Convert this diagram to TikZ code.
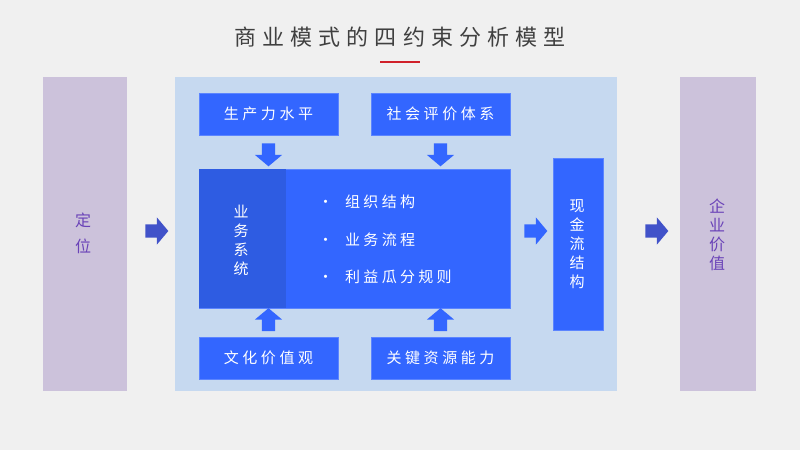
\documentclass[tikz,border=0pt]{standalone}
\usepackage{fontspec}
\setmainfont{Noto Sans CJK SC}
\usetikzlibrary{shapes.arrows,calc}
\definecolor{bgc}{HTML}{F0F0F0}
\definecolor{lav}{HTML}{CCC2DB}
\definecolor{panel}{HTML}{C6D9F0}
\definecolor{blu}{HTML}{3366FF}
\definecolor{dblu}{HTML}{2E5CE2}
\definecolor{edge}{HTML}{5C85FF}
\definecolor{indig}{HTML}{4152C9}
\definecolor{purp}{HTML}{6A43B8}
\definecolor{titc}{HTML}{404040}
\definecolor{redl}{HTML}{D0202A}
\tikzset{
  sidebox/.style={fill=lav, draw=none, minimum width=#1, minimum height=314pt, inner sep=0pt},
  bluebox/.style={fill=blu, draw=edge, line width=0.8pt, minimum width=139pt, minimum height=42pt, inner sep=0pt,
    text=white, font=\fontsize{15}{18}\selectfont\addfontfeatures{LetterSpace=24}},
  vtext/.style={align=center, inner sep=0pt},
  listtext/.style={anchor=west, inner sep=0pt, text=white, font=\fontsize{15}{18}\selectfont\addfontfeatures{LetterSpace=22}},
  barrow/.style={single arrow, draw=none, fill=#1, inner sep=6.5pt, single arrow head extend=7pt,
    single arrow tip angle=100, minimum height=23pt},
}
\begin{document}
\begin{tikzpicture}[x=1pt,y=-1pt]
\fill[bgc] (0,0) rectangle (800,450);
\useasboundingbox (0,0) rectangle (800,450);
% title
\node[text=titc, font=\fontsize{22}{25}\selectfont\addfontfeatures{LetterSpace=28}, inner sep=0pt] (title) at (400,37) {商业模式的四约束分析模型};
\draw[redl, line width=1.8pt] (380,62) coordinate (r1) -- (420,62) coordinate (r2);
% side boxes
\node[sidebox=84pt] (pos) at (85,234) {};
\node[vtext, text=purp, font=\fontsize{16}{25.5}\selectfont] (post) at (83,233.5) {定\\位};
\node[sidebox=76pt] (val) at (718,234) {};
\node[vtext, text=purp, font=\fontsize{16}{19}\selectfont] (valt) at (717,235) {企\\业\\价\\值};
% panel
\node[fill=panel, draw=none, minimum width=442pt, minimum height=314pt, inner sep=0pt] (panel) at (396,234) {};
% top / bottom boxes
\node[bluebox] (pp) at (268.5,114) {生产力水平};
\node[bluebox] (sh) at (440.5,114) {社会评价体系};
\node[bluebox] (wh) at (268.5,358) {文化价值观};
\node[bluebox] (gj) at (440.5,358) {关键资源能力};
% main box
\node[fill=blu, draw=edge, line width=0.8pt, minimum width=311pt, minimum height=139pt, inner sep=0pt] (main) at (354.5,238.5) {};
\node[fill=dblu, draw=none, minimum width=86.5pt, minimum height=138.2pt, inner sep=0pt] (ywx) at (242.6,238.5) {};
\node[vtext, text=white, font=\fontsize{15}{19}\selectfont] (ywxt) at (241,240.5) {业\\务\\系\\统};
\node[listtext] (l1) at (318,202) {\makebox[27pt][l]{•}组织结构};
\node[listtext] (l2) at (318,240) {\makebox[27pt][l]{•}业务流程};
\node[listtext] (l3) at (318,277) {\makebox[27pt][l]{•}利益瓜分规则};
% cash flow box
\node[fill=blu, draw=edge, line width=0.8pt, minimum width=50pt, minimum height=172pt, inner sep=0pt] (cf) at (578,244) {};
\node[vtext, text=white, font=\fontsize{15}{19}\selectfont] (cft) at (577,244.5) {现\\金\\流\\结\\构};
% arrows
\node[barrow=blu, rotate=-90] (a1) at ($(pp.south)!0.5!(pp.south |- main.north)$) {};
\node[barrow=blu, rotate=-90] (a2) at ($(sh.south)!0.5!(sh.south |- main.north)$) {};
\node[barrow=blu, rotate=90] (a3) at ($(wh.north)!0.5!(wh.north |- main.south)$) {};
\node[barrow=blu, rotate=90] (a4) at ($(gj.north)!0.5!(gj.north |- main.south)$) {};
\node[barrow=blu] (a5) at (533,231) {};
\node[barrow=indig] (a6) at (654,231) {};
\node[barrow=indig] (a7) at (154,231) {};
\end{tikzpicture}
\end{document}
